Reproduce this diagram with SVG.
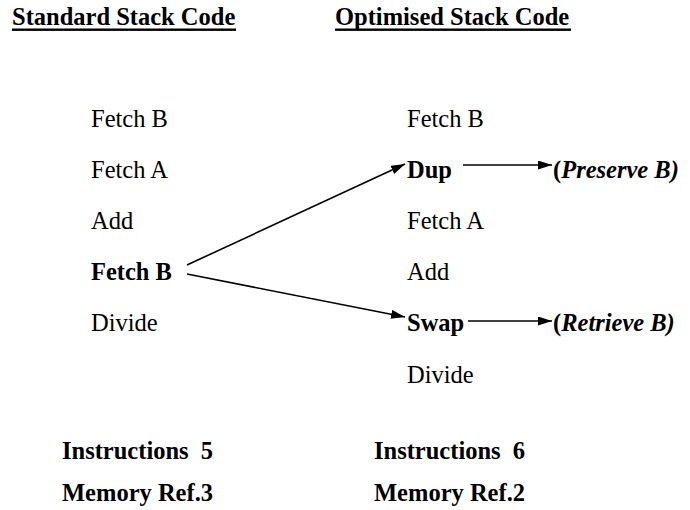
<svg xmlns="http://www.w3.org/2000/svg" width="690" height="510" viewBox="0 0 690 510">
  <style>
    text { font-family: "Times New Roman", "Liberation Serif", Times, "DejaVu Serif", serif; font-size: 24.5px; fill: #000; }
    .b { font-weight: bold; }
    .bi { font-weight: bold; font-style: italic; }
    .conn { stroke: #000; stroke-width: 1.6; fill: none; marker-end: url(#head); }
  </style>
  <defs>
    <marker id="head" viewBox="0 0 14 9" refX="14" refY="4.5" markerWidth="14" markerHeight="9" markerUnits="userSpaceOnUse" orient="auto">
      <path d="M0,0 L14,4.5 L0,9 Z" fill="#000"/>
    </marker>
  </defs>
  <rect width="690" height="510" fill="#fff"/>

  <!-- column headings -->
  <g id="heading-standard">
    <text class="b" x="12" y="25">Standard Stack Code</text>
    <rect x="12" y="28.5" width="224" height="2.4" fill="#000"/>
  </g>
  <g id="heading-optimised">
    <text class="b" x="335" y="25">Optimised Stack Code</text>
    <rect x="335" y="28.5" width="236" height="2.4" fill="#000"/>
  </g>

  <!-- standard sequence -->
  <g id="std-fetch-b"><text x="91" y="127">Fetch B</text></g>
  <g id="std-fetch-a"><text x="91" y="178">Fetch A</text></g>
  <g id="std-add"><text x="91" y="229">Add</text></g>
  <g id="std-fetch-b2"><text class="b" x="91" y="280">Fetch B</text></g>
  <g id="std-divide"><text x="91" y="331">Divide</text></g>

  <!-- optimised sequence -->
  <g id="opt-fetch-b"><text x="407" y="127">Fetch B</text></g>
  <g id="opt-dup"><text class="b" x="407" y="178">Dup</text></g>
  <g id="opt-fetch-a"><text x="407" y="229">Fetch A</text></g>
  <g id="opt-add"><text x="407" y="280">Add</text></g>
  <g id="opt-swap"><text class="b" x="407" y="331">Swap</text></g>
  <g id="opt-divide"><text x="407" y="383">Divide</text></g>

  <!-- annotations -->
  <g id="note-preserve"><text x="553" y="178"><tspan class="b">(</tspan><tspan class="bi">Preserve B)</tspan></text></g>
  <g id="note-retrieve"><text x="553" y="331"><tspan class="b">(</tspan><tspan class="bi">Retrieve B)</tspan></text></g>

  <!-- totals -->
  <g id="std-totals">
    <text class="b" x="62" y="459" xml:space="preserve">Instructions  5</text>
    <text class="b" x="62" y="501">Memory Ref.3</text>
  </g>
  <g id="opt-totals">
    <text class="b" x="374" y="459" xml:space="preserve">Instructions  6</text>
    <text class="b" x="374" y="501">Memory Ref.2</text>
  </g>

  <!-- connectors -->
  <g id="connectors">
    <line class="conn" x1="187" y1="265" x2="405" y2="164"/>
    <line class="conn" x1="187" y1="274" x2="405" y2="317"/>
    <line class="conn" x1="463" y1="165" x2="552" y2="165"/>
    <line class="conn" x1="468" y1="321" x2="552" y2="321"/>
  </g>
</svg>
